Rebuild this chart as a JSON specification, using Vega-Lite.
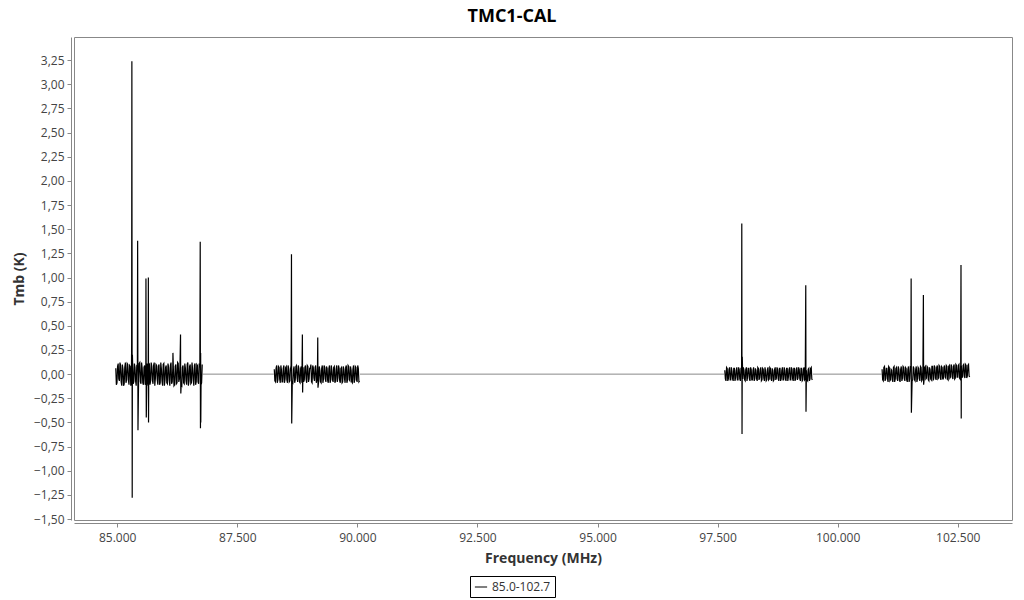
{
"$schema": "https://vega.github.io/schema/vega-lite/v6.json",
"width": 938, "height": 483,
"autosize": "none",
"padding": {"left": 74, "top": 37, "right": 12, "bottom": 80},
"background": "white",
"config": {"view": {"stroke": "#888", "strokeWidth": 1}, "font": "Open Sans"},
"title": {"text": "TMC1-CAL", "font": "Open Sans", "fontSize": 18, "fontWeight": "bold", "color": "black", "anchor": "middle", "dx": -31, "offset": 11},
"data": {"values": [
{"f":86780,"t":0,"g":1},{"f":88260,"t":0,"g":1},{"f":90055,"t":0,"g":2},{"f":97640,"t":0,"g":2},{"f":99485,"t":0,"g":3},{"f":100915,"t":0,"g":3},
{"f":87500,"t":null},{"f":94000,"t":null},{"f":100200,"t":null},
{"f":84970,"t":0.06},{"f":84995,"t":-0.09},{"f":85020,"t":0.11},{"f":85045,"t":-0.07},{"f":85070,"t":0.09},{"f":85095,"t":-0.12},{"f":85120,"t":0.05},{"f":85145,"t":-0.10},{"f":85170,"t":0.12},{"f":85195,"t":-0.06},{"f":85220,"t":0.10},{"f":85245,"t":-0.11},{"f":85270,"t":0.08},{"f":85295,"t":-0.09},{"f":85320,"t":0.12},{"f":85345,"t":-0.08},{"f":85370,"t":0.07},{"f":85395,"t":-0.12},{"f":85420,"t":0.10},{"f":85445,"t":-0.05},{"f":85470,"t":0.12},{"f":85495,"t":-0.10},{"f":85520,"t":0.06},{"f":85545,"t":-0.11},{"f":85570,"t":0.09},{"f":85595,"t":-0.08},{"f":85620,"t":0.11},{"f":85645,"t":-0.12},{"f":85670,"t":0.10},{"f":85695,"t":-0.07},{"f":85720,"t":0.08},{"f":85745,"t":-0.10},{"f":85770,"t":0.12},{"f":85795,"t":-0.04},{"f":85820,"t":0.09},{"f":85845,"t":-0.11},{"f":85870,"t":0.10},{"f":85895,"t":-0.09},{"f":85920,"t":0.05},{"f":85945,"t":-0.12},{"f":85970,"t":0.11},{"f":85995,"t":-0.06},{"f":86020,"t":0.09},{"f":86045,"t":-0.10},{"f":86070,"t":0.07},{"f":86095,"t":-0.12},{"f":86120,"t":0.12},{"f":86145,"t":-0.08},{"f":86170,"t":0.04},{"f":86195,"t":-0.11},{"f":86220,"t":0.10},{"f":86245,"t":-0.09},{"f":86270,"t":0.11},{"f":86295,"t":-0.05},{"f":86320,"t":0.08},{"f":86345,"t":-0.12},{"f":86370,"t":0.09},{"f":86395,"t":-0.10},{"f":86420,"t":0.06},{"f":86445,"t":-0.11},{"f":86470,"t":0.12},{"f":86495,"t":-0.07},{"f":86520,"t":0.10},{"f":86545,"t":-0.09},{"f":86570,"t":0.05},{"f":86595,"t":-0.12},{"f":86620,"t":0.11},{"f":86645,"t":-0.08},{"f":86670,"t":0.09},{"f":86695,"t":-0.10},{"f":86720,"t":0.07},{"f":86745,"t":-0.11},{"f":86770,"t":0.10},
{"f":84982,"t":-0.11},{"f":85007,"t":0.08},{"f":85032,"t":-0.05},{"f":85057,"t":0.12},{"f":85082,"t":-0.08},{"f":85107,"t":0.10},{"f":85132,"t":-0.12},{"f":85157,"t":0.07},{"f":85182,"t":-0.09},{"f":85207,"t":0.11},{"f":85232,"t":-0.06},{"f":85257,"t":0.09},{"f":85282,"t":-0.12},{"f":85332,"t":-0.10},{"f":85357,"t":0.11},{"f":85382,"t":-0.07},{"f":85407,"t":0.09},{"f":85457,"t":0.11},{"f":85482,"t":-0.08},{"f":85507,"t":0.12},{"f":85532,"t":-0.09},{"f":85557,"t":0.07},{"f":85582,"t":-0.11},{"f":85632,"t":-0.07},{"f":85657,"t":0.09},{"f":85682,"t":-0.11},{"f":85707,"t":0.12},{"f":85732,"t":-0.06},{"f":85757,"t":0.09},{"f":85782,"t":-0.12},{"f":85807,"t":0.10},{"f":85832,"t":-0.05},{"f":85857,"t":0.08},{"f":85882,"t":-0.11},{"f":85907,"t":0.12},{"f":85932,"t":-0.07},{"f":85957,"t":0.10},{"f":85982,"t":-0.12},{"f":86007,"t":0.07},{"f":86032,"t":-0.09},{"f":86057,"t":0.11},{"f":86082,"t":-0.06},{"f":86107,"t":0.09},{"f":86132,"t":-0.10},{"f":86157,"t":0.06},{"f":86182,"t":-0.12},{"f":86207,"t":0.08},{"f":86232,"t":-0.10},{"f":86257,"t":0.12},{"f":86282,"t":-0.08},{"f":86307,"t":0.10},{"f":86332,"t":-0.11},{"f":86357,"t":0.07},{"f":86382,"t":-0.09},{"f":86407,"t":0.11},{"f":86432,"t":-0.07},{"f":86457,"t":0.10},{"f":86482,"t":-0.12},{"f":86507,"t":0.08},{"f":86532,"t":-0.10},{"f":86557,"t":0.12},{"f":86582,"t":-0.06},{"f":86607,"t":0.09},{"f":86632,"t":-0.11},{"f":86657,"t":0.10},{"f":86682,"t":-0.08},{"f":86707,"t":0.11},{"f":86757,"t":-0.09},
{"f":85300,"t":0.32},{"f":85305,"t":3.24},{"f":85312,"t":-1.28},{"f":85316,"t":0.2},
{"f":85425,"t":1.38},{"f":85432,"t":-0.58},
{"f":85598,"t":0.99},{"f":85605,"t":-0.45},{"f":85648,"t":1.0},{"f":85652,"t":-0.5},
{"f":86160,"t":0.22},{"f":86318,"t":0.41},{"f":86324,"t":-0.2},
{"f":86728,"t":1.37},{"f":86733,"t":-0.56},{"f":86737,"t":0.22},{"f":86740,"t":-0.5},
{"f":88270,"t":0.05},{"f":88295,"t":-0.08},{"f":88320,"t":0.09},{"f":88345,"t":-0.06},{"f":88370,"t":0.07},{"f":88395,"t":-0.09},{"f":88420,"t":0.04},{"f":88445,"t":-0.08},{"f":88470,"t":0.09},{"f":88495,"t":-0.05},{"f":88520,"t":0.08},{"f":88545,"t":-0.09},{"f":88570,"t":0.06},{"f":88595,"t":-0.07},{"f":88620,"t":0.09},{"f":88645,"t":-0.08},{"f":88670,"t":0.05},{"f":88695,"t":-0.09},{"f":88720,"t":0.08},{"f":88745,"t":-0.04},{"f":88770,"t":0.09},{"f":88795,"t":-0.08},{"f":88820,"t":0.06},{"f":88845,"t":-0.09},{"f":88870,"t":0.07},{"f":88895,"t":-0.06},{"f":88920,"t":0.09},{"f":88945,"t":-0.09},{"f":88970,"t":0.08},{"f":88995,"t":-0.05},{"f":89020,"t":0.06},{"f":89045,"t":-0.08},{"f":89070,"t":0.09},{"f":89095,"t":-0.04},{"f":89120,"t":0.07},{"f":89145,"t":-0.09},{"f":89170,"t":0.08},{"f":89195,"t":-0.07},{"f":89220,"t":0.04},{"f":89245,"t":-0.09},{"f":89270,"t":0.09},{"f":89295,"t":-0.05},{"f":89320,"t":0.07},{"f":89345,"t":-0.08},{"f":89370,"t":0.06},{"f":89395,"t":-0.09},{"f":89420,"t":0.09},{"f":89445,"t":-0.06},{"f":89470,"t":0.04},{"f":89495,"t":-0.08},{"f":89520,"t":0.08},{"f":89545,"t":-0.07},{"f":89570,"t":0.09},{"f":89595,"t":-0.04},{"f":89620,"t":0.06},{"f":89645,"t":-0.09},{"f":89670,"t":0.07},{"f":89695,"t":-0.08},{"f":89720,"t":0.05},{"f":89745,"t":-0.09},{"f":89770,"t":0.09},{"f":89795,"t":-0.06},{"f":89820,"t":0.08},{"f":89845,"t":-0.07},{"f":89870,"t":0.04},{"f":89895,"t":-0.09},{"f":89920,"t":0.09},{"f":89945,"t":-0.06},{"f":89970,"t":0.07},{"f":89995,"t":-0.08},{"f":90020,"t":0.06},{"f":90045,"t":-0.07},
{"f":88282,"t":-0.07},{"f":88307,"t":0.06},{"f":88332,"t":-0.09},{"f":88357,"t":0.08},{"f":88382,"t":-0.05},{"f":88407,"t":0.09},{"f":88432,"t":-0.08},{"f":88457,"t":0.06},{"f":88482,"t":-0.09},{"f":88507,"t":0.07},{"f":88532,"t":-0.06},{"f":88557,"t":0.09},{"f":88582,"t":-0.08},{"f":88607,"t":0.05},{"f":88657,"t":-0.09},{"f":88682,"t":0.08},{"f":88707,"t":-0.06},{"f":88732,"t":0.09},{"f":88757,"t":-0.08},{"f":88782,"t":0.06},{"f":88807,"t":-0.09},{"f":88832,"t":0.08},{"f":88882,"t":-0.08},{"f":88907,"t":0.07},{"f":88932,"t":-0.05},{"f":88957,"t":0.09},{"f":88982,"t":-0.08},{"f":89007,"t":0.06},{"f":89032,"t":0.10},{"f":89057,"t":-0.09},{"f":89082,"t":0.07},{"f":89107,"t":-0.07},{"f":89132,"t":0.09},{"f":89157,"t":-0.06},{"f":89207,"t":0.08},{"f":89232,"t":-0.08},{"f":89257,"t":0.06},{"f":89282,"t":-0.09},{"f":89307,"t":0.09},{"f":89332,"t":-0.05},{"f":89357,"t":0.08},{"f":89382,"t":-0.07},{"f":89407,"t":0.06},{"f":89432,"t":-0.09},{"f":89457,"t":0.09},{"f":89482,"t":-0.06},{"f":89507,"t":0.07},{"f":89532,"t":-0.09},{"f":89557,"t":0.05},{"f":89582,"t":-0.08},{"f":89607,"t":0.09},{"f":89632,"t":-0.07},{"f":89657,"t":0.06},{"f":89682,"t":-0.09},{"f":89707,"t":0.08},{"f":89732,"t":-0.05},{"f":89757,"t":0.07},{"f":89782,"t":-0.09},{"f":89807,"t":0.09},{"f":89832,"t":-0.06},{"f":89857,"t":0.08},{"f":89882,"t":-0.08},{"f":89907,"t":0.05},{"f":89932,"t":-0.09},{"f":89957,"t":0.08},{"f":89982,"t":-0.06},{"f":90007,"t":0.09},{"f":90032,"t":-0.08},
{"f":88624,"t":0.48},{"f":88628,"t":1.24},{"f":88633,"t":-0.51},
{"f":88855,"t":0.41},{"f":88860,"t":-0.19},{"f":89175,"t":0.38},{"f":89180,"t":-0.14},
{"f":97650,"t":0.04},{"f":97675,"t":-0.07},{"f":97700,"t":0.06},{"f":97725,"t":-0.05},{"f":97750,"t":0.07},{"f":97775,"t":-0.06},{"f":97800,"t":0.03},{"f":97825,"t":-0.07},{"f":97850,"t":0.06},{"f":97875,"t":-0.04},{"f":97900,"t":0.07},{"f":97925,"t":-0.06},{"f":97950,"t":0.05},{"f":97975,"t":-0.07},{"f":98000,"t":0.06},{"f":98025,"t":-0.05},{"f":98050,"t":0.04},{"f":98075,"t":-0.07},{"f":98100,"t":0.07},{"f":98125,"t":-0.03},{"f":98150,"t":0.06},{"f":98175,"t":-0.07},{"f":98200,"t":0.05},{"f":98225,"t":-0.06},{"f":98250,"t":0.07},{"f":98275,"t":-0.05},{"f":98300,"t":0.04},{"f":98325,"t":-0.07},{"f":98350,"t":0.06},{"f":98375,"t":-0.04},{"f":98400,"t":0.07},{"f":98425,"t":-0.06},{"f":98450,"t":0.05},{"f":98475,"t":-0.07},{"f":98500,"t":0.03},{"f":98525,"t":-0.06},{"f":98550,"t":0.07},{"f":98575,"t":-0.05},{"f":98600,"t":0.06},{"f":98625,"t":-0.07},{"f":98650,"t":0.04},{"f":98675,"t":-0.06},{"f":98700,"t":0.07},{"f":98725,"t":-0.04},{"f":98750,"t":0.05},{"f":98775,"t":-0.07},{"f":98800,"t":0.06},{"f":98825,"t":-0.05},{"f":98850,"t":0.07},{"f":98875,"t":-0.06},{"f":98900,"t":0.04},{"f":98925,"t":-0.07},{"f":98950,"t":0.06},{"f":98975,"t":-0.03},{"f":99000,"t":0.07},{"f":99025,"t":-0.06},{"f":99050,"t":0.05},{"f":99075,"t":-0.07},{"f":99100,"t":0.06},{"f":99125,"t":-0.05},{"f":99150,"t":0.07},{"f":99175,"t":-0.04},{"f":99200,"t":0.05},{"f":99225,"t":-0.07},{"f":99250,"t":0.06},{"f":99275,"t":-0.06},{"f":99300,"t":0.07},{"f":99325,"t":-0.05},{"f":99350,"t":0.04},{"f":99375,"t":-0.07},{"f":99400,"t":0.06},{"f":99425,"t":-0.05},{"f":99450,"t":0.07},{"f":99475,"t":-0.06},
{"f":97662,"t":-0.05},{"f":97687,"t":0.07},{"f":97712,"t":-0.07},{"f":97737,"t":0.05},{"f":97762,"t":-0.06},{"f":97787,"t":0.07},{"f":97812,"t":-0.05},{"f":97837,"t":0.06},{"f":97862,"t":-0.07},{"f":97887,"t":0.04},{"f":97912,"t":-0.06},{"f":97937,"t":0.07},{"f":97962,"t":-0.05},{"f":97987,"t":0.06},{"f":98037,"t":0.07},{"f":98062,"t":-0.06},{"f":98087,"t":0.05},{"f":98112,"t":-0.07},{"f":98137,"t":0.06},{"f":98162,"t":-0.05},{"f":98187,"t":0.07},{"f":98212,"t":-0.06},{"f":98237,"t":0.04},{"f":98262,"t":-0.07},{"f":98287,"t":0.06},{"f":98312,"t":-0.05},{"f":98337,"t":0.07},{"f":98362,"t":-0.06},{"f":98387,"t":0.05},{"f":98412,"t":-0.07},{"f":98437,"t":0.06},{"f":98462,"t":-0.04},{"f":98487,"t":0.07},{"f":98512,"t":-0.07},{"f":98537,"t":0.05},{"f":98562,"t":-0.06},{"f":98587,"t":0.07},{"f":98612,"t":-0.05},{"f":98637,"t":0.06},{"f":98662,"t":-0.07},{"f":98687,"t":0.05},{"f":98712,"t":-0.06},{"f":98737,"t":0.07},{"f":98762,"t":-0.05},{"f":98787,"t":0.06},{"f":98812,"t":-0.07},{"f":98837,"t":0.04},{"f":98862,"t":-0.06},{"f":98887,"t":0.07},{"f":98912,"t":-0.05},{"f":98937,"t":0.06},{"f":98962,"t":-0.07},{"f":98987,"t":0.05},{"f":99012,"t":-0.06},{"f":99037,"t":0.07},{"f":99062,"t":-0.05},{"f":99087,"t":0.06},{"f":99112,"t":-0.07},{"f":99137,"t":0.05},{"f":99162,"t":-0.06},{"f":99187,"t":0.07},{"f":99212,"t":-0.05},{"f":99237,"t":0.06},{"f":99262,"t":-0.07},{"f":99287,"t":0.05},{"f":99312,"t":-0.06},{"f":99362,"t":-0.06},{"f":99387,"t":0.05},{"f":99412,"t":-0.07},{"f":99437,"t":0.06},{"f":99462,"t":-0.05},
{"f":98004,"t":1.56},{"f":98009,"t":-0.62},{"f":98014,"t":0.18},
{"f":99336,"t":0.92},{"f":99341,"t":-0.39},
{"f":100925,"t":0.05},{"f":100950,"t":-0.07},{"f":100975,"t":0.08},{"f":101000,"t":-0.05},{"f":101025,"t":0.06},{"f":101050,"t":-0.08},{"f":101075,"t":0.07},{"f":101100,"t":-0.06},{"f":101125,"t":0.04},{"f":101150,"t":-0.08},{"f":101175,"t":0.08},{"f":101200,"t":-0.05},{"f":101225,"t":0.07},{"f":101250,"t":-0.07},{"f":101275,"t":0.05},{"f":101300,"t":-0.08},{"f":101325,"t":0.08},{"f":101350,"t":-0.04},{"f":101375,"t":0.07},{"f":101400,"t":-0.07},{"f":101425,"t":0.06},{"f":101450,"t":-0.08},{"f":101475,"t":0.08},{"f":101500,"t":-0.05},{"f":101525,"t":0.06},{"f":101550,"t":-0.07},{"f":101575,"t":0.08},{"f":101600,"t":-0.06},{"f":101625,"t":0.05},{"f":101650,"t":-0.08},{"f":101675,"t":0.07},{"f":101700,"t":-0.05},{"f":101725,"t":0.08},{"f":101750,"t":-0.07},{"f":101775,"t":0.06},{"f":101800,"t":-0.06},{"f":101825,"t":0.08},{"f":101850,"t":-0.04},{"f":101875,"t":0.07},{"f":101900,"t":-0.07},{"f":101925,"t":0.05},{"f":101950,"t":-0.06},{"f":101975,"t":0.08},{"f":102000,"t":-0.05},{"f":102025,"t":0.07},{"f":102050,"t":-0.06},{"f":102075,"t":0.09},{"f":102100,"t":-0.04},{"f":102125,"t":0.08},{"f":102150,"t":-0.06},{"f":102175,"t":0.07},{"f":102200,"t":-0.05},{"f":102225,"t":0.09},{"f":102250,"t":-0.04},{"f":102275,"t":0.08},{"f":102300,"t":-0.06},{"f":102325,"t":0.09},{"f":102350,"t":-0.03},{"f":102375,"t":0.08},{"f":102400,"t":-0.05},{"f":102425,"t":0.10},{"f":102450,"t":-0.04},{"f":102475,"t":0.09},{"f":102500,"t":-0.03},{"f":102525,"t":0.10},{"f":102550,"t":-0.05},{"f":102575,"t":0.09},{"f":102600,"t":-0.03},{"f":102625,"t":0.10},{"f":102650,"t":-0.04},{"f":102675,"t":0.09},{"f":102700,"t":-0.02},{"f":102725,"t":0.10},{"f":102750,"t":-0.03},
{"f":100937,"t":-0.06},{"f":100962,"t":0.07},{"f":100987,"t":-0.07},{"f":101012,"t":0.06},{"f":101037,"t":-0.05},{"f":101062,"t":0.08},{"f":101087,"t":-0.07},{"f":101112,"t":0.05},{"f":101137,"t":-0.06},{"f":101162,"t":0.07},{"f":101187,"t":-0.08},{"f":101212,"t":0.06},{"f":101237,"t":-0.05},{"f":101262,"t":0.08},{"f":101287,"t":-0.06},{"f":101312,"t":0.05},{"f":101337,"t":-0.07},{"f":101362,"t":0.08},{"f":101387,"t":-0.05},{"f":101412,"t":0.07},{"f":101437,"t":-0.06},{"f":101462,"t":0.05},{"f":101487,"t":-0.08},{"f":101512,"t":0.07},{"f":101562,"t":-0.06},{"f":101587,"t":0.06},{"f":101612,"t":-0.07},{"f":101637,"t":0.08},{"f":101662,"t":-0.05},{"f":101687,"t":0.06},{"f":101712,"t":-0.07},{"f":101737,"t":0.07},{"f":101762,"t":-0.06},{"f":101812,"t":0.07},{"f":101837,"t":-0.05},{"f":101862,"t":0.08},{"f":101887,"t":-0.06},{"f":101912,"t":0.07},{"f":101937,"t":-0.05},{"f":101962,"t":0.08},{"f":101987,"t":-0.06},{"f":102012,"t":0.09},{"f":102037,"t":-0.04},{"f":102062,"t":0.07},{"f":102087,"t":-0.05},{"f":102112,"t":0.09},{"f":102137,"t":-0.04},{"f":102162,"t":0.08},{"f":102187,"t":-0.05},{"f":102212,"t":0.07},{"f":102237,"t":-0.03},{"f":102262,"t":0.09},{"f":102287,"t":-0.05},{"f":102312,"t":0.08},{"f":102337,"t":-0.04},{"f":102362,"t":0.10},{"f":102387,"t":-0.03},{"f":102412,"t":0.08},{"f":102437,"t":-0.05},{"f":102462,"t":0.10},{"f":102487,"t":-0.03},{"f":102512,"t":0.09},{"f":102537,"t":-0.04},{"f":102562,"t":0.10},{"f":102587,"t":-0.03},{"f":102612,"t":0.09},{"f":102637,"t":-0.02},{"f":102662,"t":0.10},{"f":102687,"t":-0.04},{"f":102712,"t":0.09},{"f":102737,"t":-0.02},
{"f":101530,"t":0.99},{"f":101535,"t":-0.40},{"f":101785,"t":0.82},{"f":101790,"t":-0.11},
{"f":102568,"t":1.13},{"f":102573,"t":-0.46}
]},
"encoding": {
  "x": {"field": "f", "type": "quantitative",
    "scale": {"domain": [84100, 103630], "nice": false, "zero": false},
    "axis": {"title": "Frequency (MHz)", "values": [85000, 87500, 90000, 92500, 95000, 97500, 100000, 102500],
      "labelExpr": "replace(format(datum.value, ',.0f'), ',', '.')", "labelOverlap": false,
      "grid": false, "offset": 3, "domainColor": "#888", "tickColor": "#888", "tickSize": 4,
      "labelColor": "#444", "labelFontSize": 12, "labelPadding": 5, "labelFont": "Open Sans",
      "titleFont": "Open Sans", "titleFontSize": 14, "titleFontWeight": "bold", "titleColor": "#333", "titlePadding": 8}},
  "y": {"field": "t", "type": "quantitative",
    "scale": {"domain": [-1.51, 3.49], "nice": false, "zero": false},
    "axis": {"title": "Tmb (K)", "values": [-1.5, -1.25, -1, -0.75, -0.5, -0.25, 0, 0.25, 0.5, 0.75, 1, 1.25, 1.5, 1.75, 2, 2.25, 2.5, 2.75, 3, 3.25],
      "labelExpr": "replace(format(datum.value, '.2f'), '.', ',')", "labelOverlap": false,
      "grid": false, "offset": 3, "domainColor": "#888", "tickColor": "#888", "tickSize": 4,
      "labelColor": "#444", "labelFontSize": 12, "labelPadding": 3, "labelFont": "Open Sans",
      "titleFont": "Open Sans", "titleFontSize": 14, "titleFontWeight": "bold", "titleColor": "#333", "titlePadding": 7}}
},
"layer": [
  {"transform": [{"filter": "isValid(datum.g)"}],
   "mark": {"type": "line", "stroke": "#888", "strokeWidth": 1},
   "encoding": {"detail": {"field": "g", "type": "nominal"}}},
  {"transform": [{"filter": "!isValid(datum.g)"}],
   "mark": {"type": "line", "strokeWidth": 1.2, "invalid": "break-paths-show-domains"},
   "encoding": {
    "color": {"datum": "85.0-102.7", "type": "nominal", "scale": {"range": ["black"]},
      "legend": {"title": null, "orient": "none", "legendX": 396, "legendY": 539, "strokeColor": "black", "padding": 4,
        "symbolType": "stroke", "symbolSize": 150, "symbolStrokeWidth": 1, "labelFontSize": 12, "labelColor": "#333", "labelFont": "Open Sans"}}}}
]
}
